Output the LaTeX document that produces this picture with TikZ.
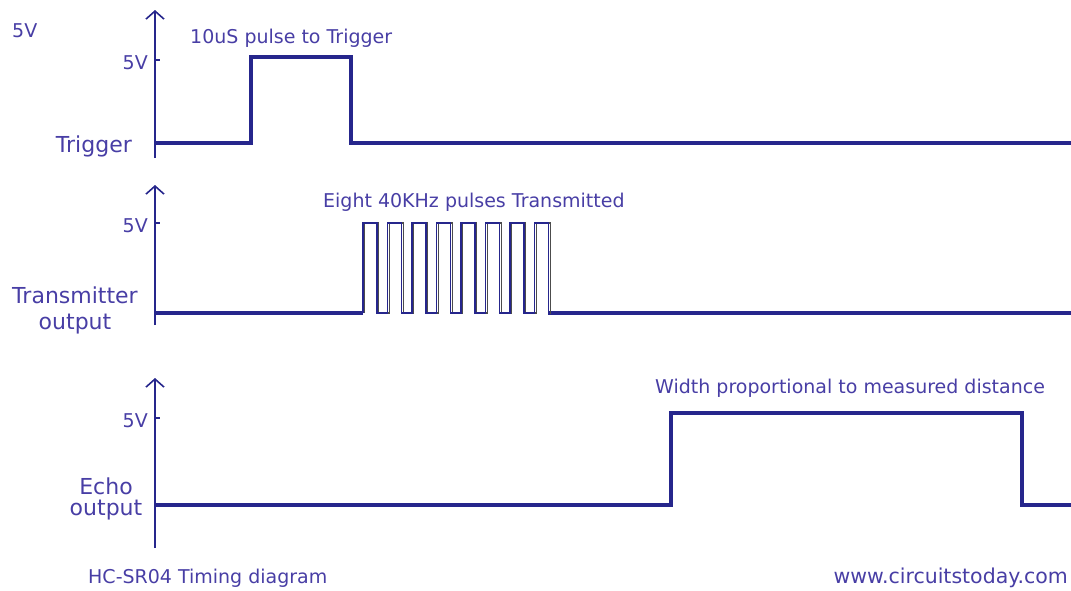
\documentclass[tikz,border=0pt]{standalone}
\usepackage{fontspec}
\setmainfont{DejaVu Sans}
\usetikzlibrary{
  arrows.meta,
  positioning
}
\definecolor{wavecol}{RGB}{38,38,140}
\definecolor{labelcol}{RGB}{72,62,165}
\tikzset{>={Straight Barb[length=8pt,width=18pt,line width=1.6pt]}}
\tikzset{
  axisline/.style={draw=wavecol, line width=2pt},
  wave/.style={draw=wavecol, line width=3.5pt},
  burst/.style={draw=wavecol, line width=1.4pt},
  burstshadow/.style={draw=black!70, line width=1.2pt},
  smalltxt/.style={text=labelcol, font=\fontsize{19}{22}\selectfont, inner sep=0pt},
  bigtxt/.style={text=labelcol, font=\fontsize{22}{26}\selectfont, inner sep=0pt, align=center}
}

\begin{document}
\begin{tikzpicture}[x=1pt,y=-1pt]
  \useasboundingbox (0,0) rectangle (1071,590);
  % axes with 5V tick
  \foreach \ybot/\ytop/\yfive [count=\i] in {158/10/60, 325/185/223, 548/378/418}{
    \draw[axisline,->] (155,\ybot) -- (155,\ytop);
    \draw[axisline] (155,\yfive) -- (160,\yfive);
    \node[smalltxt, anchor=base east] (five\i) at (148,\yfive+9) {5V};
  }
  % trigger
  \draw[wave] (155,143) -- (251,143) -- (251,57) -- (351,57) -- (351,143) -- (1071,143);
  % transmitter burst
  \draw[wave] (155,313) -- (363,313);
  \draw[wave] (548,313) -- (1071,313);
  \draw[burstshadow, xshift=1.8pt] (363,313) foreach \k in {0,...,7}{
      -- (363+24.5*\k,313) -- (363+24.5*\k,223) -- (377+24.5*\k,223) -- (377+24.5*\k,313)
    } -- (548,313);
  \draw[burst] (363,313) foreach \k in {0,...,7}{
      -- (363+24.5*\k,313) -- (363+24.5*\k,223) -- (377+24.5*\k,223) -- (377+24.5*\k,313)
    } -- (548,313);
  % echo
  \draw[wave] (155,505) -- (671,505) -- (671,413) -- (1022,413) -- (1022,505) -- (1071,505);
  % labels
  \node[smalltxt, anchor=base west] (topfive) at (12,37) {5V};
  \node[smalltxt, anchor=base west] (trigtitle) at (190,43) {10uS pulse to Trigger};
  \node[bigtxt, anchor=base east] (trig) at (132,152) {Trigger};
  \node[smalltxt, anchor=base west] (bursttitle) at (323,207) {Eight 40KHz pulses Transmitted};
  \node[bigtxt, anchor=north] (txout) at (75,287) {Transmitter\\output};
  \node[smalltxt, anchor=base west] (echotitle) at (655,393) {Width proportional to measured distance};
  \node[bigtxt, anchor=north] (echoout) at (106,478) {Echo\\[-5pt]output};
  \node[smalltxt, anchor=base west] (caption) at (88,583) {HC-SR04 Timing diagram};
  \node[smalltxt, anchor=base east, font=\fontsize{20.5}{22}\selectfont] (site) at (1068,583) {www.circuitstoday.com};
\end{tikzpicture}
\end{document}
